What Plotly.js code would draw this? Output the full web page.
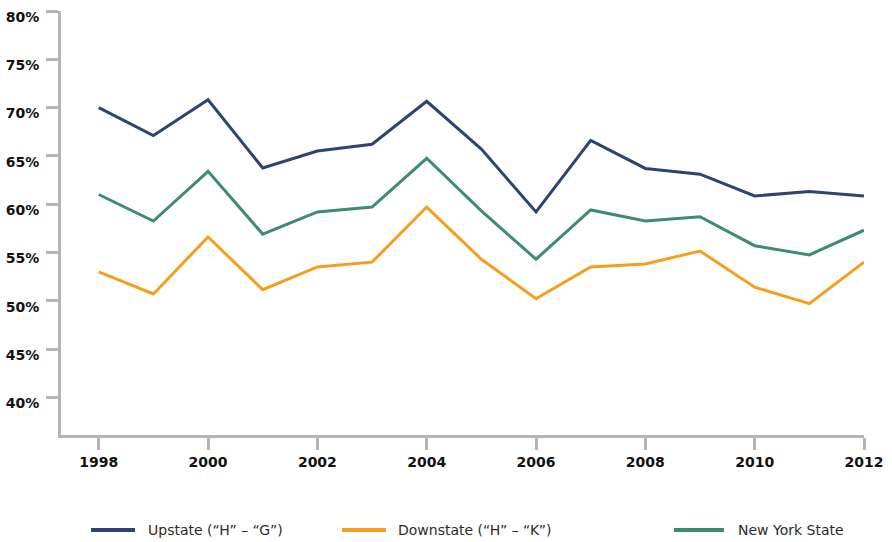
<!DOCTYPE html>
<html>
<head>
<meta charset="utf-8">
<script src="https://cdn.plot.ly/plotly-3.0.1.min.js"></script>
<style>html,body{margin:0;padding:0;background:#fff;}#chart{width:892px;height:542px;}</style>
</head>
<body>
<div id="chart"></div>
<script>
const years = [1998,1999,2000,2001,2002,2003,2004,2005,2006,2007,2008,2009,2010,2011,2012];
const upstate = [70.0,67.1,70.8,63.75,65.5,66.2,70.65,65.7,59.2,66.6,63.7,63.1,60.85,61.3,60.85];
const downstate = [53.0,50.7,56.6,51.15,53.5,54.0,59.7,54.3,50.2,53.5,53.8,55.15,51.4,49.7,54.0];
const nys = [61.0,58.25,63.4,56.9,59.2,59.7,64.75,59.3,54.3,59.4,58.25,58.7,55.7,54.75,57.3];
const seriesNames = ['Upstate (\u201cH\u201d \u2013 \u201cG\u201d)','Downstate (\u201cH\u201d \u2013 \u201cK\u201d)','New York State'];
const seriesColors = ['#2e4372','#f79d1e','#3b8d6e'];
const yTickVals = [40,45,50,55,60,65,70,75,80];
const yTickText = ['40%','45%','50%','55%','60%','65%','70%','75%','80%'];
const xTickVals = [1998,2000,2002,2004,2006,2008,2010,2012];

const seriesData = [upstate, downstate, nys];
const traces = seriesData.map((vals,i)=>({
  x: years, y: vals, type:'scatter', mode:'lines', name: seriesNames[i],
  line:{color: seriesColors[i], width:3}, showlegend:false
}));

// custom legend (keys + labels)
const legendX = [[91,135,146],[342,386,396],[674,724,736]];
const legendY = 530;
const W = 892, H = 542;
const shapes = [], annotations = [];
legendX.forEach((p,i)=>{
  shapes.push({type:'line', xref:'paper', yref:'paper',
    x0:(p[0]-61)/(864-61), x1:(p[1]-61)/(864-61),
    y0:(435-legendY)/(435-11), y1:(435-legendY)/(435-11),
    line:{color:seriesColors[i], width:4}});
  annotations.push({xref:'paper', yref:'paper', x:(p[2]-61)/(864-61), y:(435-legendY)/(435-11),
    xanchor:'left', yanchor:'middle', showarrow:false, text:seriesNames[i],
    font:{family:'DejaVu Sans, sans-serif', size:14, color:'#2b2b2b'}});
});

const axisGray = '#b5b5b7';
const tickFont = {family:'DejaVu Sans, sans-serif', size:14, color:'#111', weight:'bold'};
const layout = {
  width: W, height: H,
  margin:{l:61, r:28, t:11, b:107},
  paper_bgcolor:'#fff', plot_bgcolor:'#fff',
  showlegend:false,
  xaxis:{range:[1997.31,2012], tickvals:xTickVals, ticktext:xTickVals.map(String),
    showgrid:false, zeroline:false, showline:true, linecolor:axisGray, linewidth:3,
    ticks:'outside', ticklen:12, tickwidth:3, tickcolor:axisGray, tickfont:tickFont},
  yaxis:{range:[36.1,80], tickvals:yTickVals, ticktext:yTickText,
    showgrid:false, zeroline:false, showline:true, linecolor:axisGray, linewidth:3,
    ticks:'outside', ticklen:12, tickwidth:3, tickcolor:axisGray, tickfont:tickFont,
    ticklabelstandoff:4, ticklabelshift:6},
  shapes: shapes, annotations: annotations
};
Plotly.newPlot('chart', traces, layout, {displayModeBar:false, staticPlot:true});
</script>
</body>
</html>
